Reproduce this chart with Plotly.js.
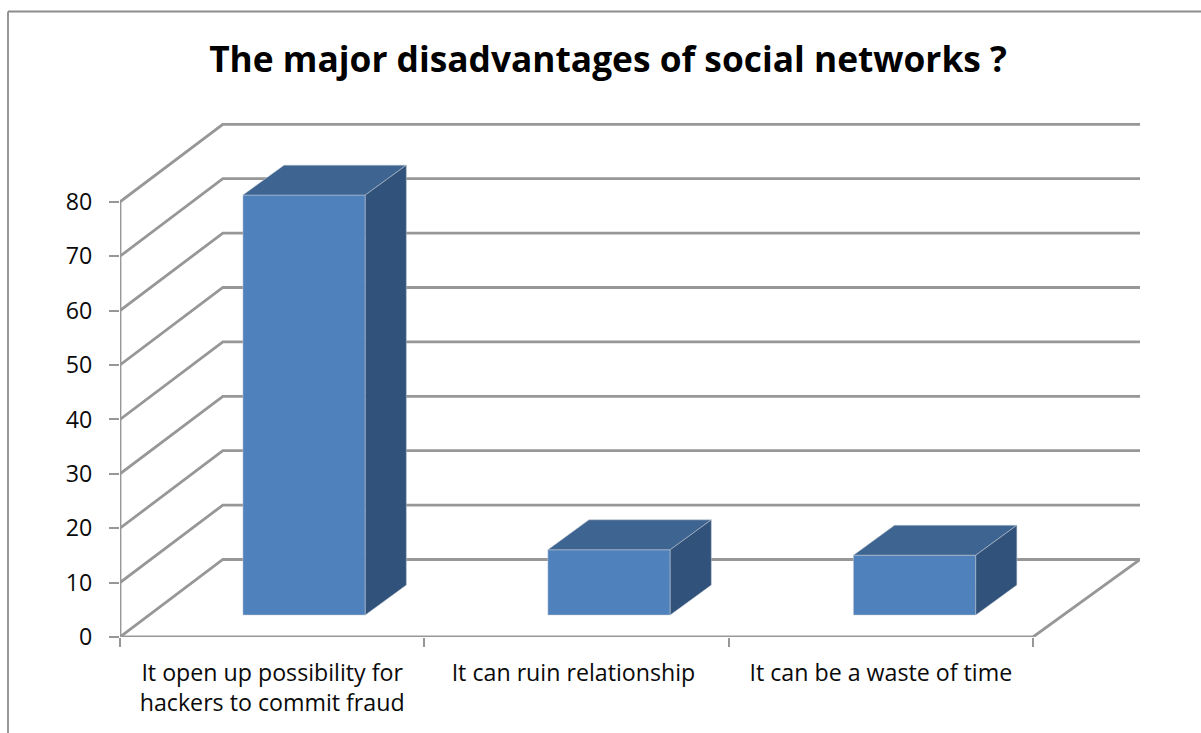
<!DOCTYPE html>
<html>
<head>
<meta charset="utf-8">
<script src="https://cdn.plot.ly/plotly-3.0.1.min.js"></script>
<style>html,body{margin:0;padding:0;background:#fff}#chart{width:1201px;height:733px}</style>
</head>
<body>
<div id="chart"></div>
<script>
// Data
const categories = ['It open up possibility for<br>hackers to commit fraud', 'It can ruin relationship', 'It can be a waste of time'];
const values = [77.2, 12, 11];
const yTicks = [0, 10, 20, 30, 40, 50, 60, 70, 80];
const categoryEdges = [0, 1, 2, 3];
const labelPositions = [0.5, 1.49, 2.5];

// Oblique projection of the 3D box, in axis units
const wallDX = 0.338, wallDY = 14.25, wallEndX = 3.352;
const barWidth = 0.402, barStart = [0.404, 1.406, 2.41];
const barBase = 4.04, sideDX = 0.135, sideDY = 5.5;

const gridColor = '#979797', front = '#4f81bd', topFace = '#3e6491', sideFace = '#31527b', edge = '#c4cad2';
const font = 'Open Sans, sans-serif', textColor = '#0a0a0a';

const gridX = [], gridY = [];
yTicks.forEach(v => {
  gridX.push(0, wallDX, wallEndX, null);
  gridY.push(v, v + wallDY, v + wallDY, null);
});
const frameX = [0, 0, null, 0, 3, wallEndX];
const frameY = [yTicks[yTicks.length - 1], 0, null, 0, 0, wallDY];

function face(xs, ys, color) {
  return {type: 'scatter', mode: 'lines', x: xs, y: ys, xaxis: 'x2', yaxis: 'y2', fill: 'toself', fillcolor: color,
    line: {color: edge, width: 0.5}, hoverinfo: 'skip', showlegend: false, cliponaxis: false};
}

const traces = [
  {type: 'scatter', mode: 'lines', x: gridX, y: gridY, line: {color: gridColor, width: 2.8}, hoverinfo: 'skip', showlegend: false, cliponaxis: false},
  {type: 'scatter', mode: 'lines', x: frameX, y: frameY, line: {color: gridColor, width: 2.8}, hoverinfo: 'skip', showlegend: false, cliponaxis: false},
  {type: 'bar', x: barStart, y: values, base: barBase, width: barWidth, offset: 0, text: categories, textposition: 'none', hoverinfo: 'text+y',
    xaxis: 'x2', yaxis: 'y2', marker: {color: front, line: {color: edge, width: 0.5}}, showlegend: false}
];

values.forEach((v, i) => {
  const l = barStart[i], r = l + barWidth, t = barBase + v;
  traces.push(face([l, l + sideDX, r + sideDX, r, l], [t, t + sideDY, t + sideDY, t, t], topFace));
  traces.push(face([r, r + sideDX, r + sideDX, r, r], [barBase, barBase + sideDY, t + sideDY, t, barBase], sideFace));
});

const plotW = 1020, plotH = 514;
const xRange = [0, plotW / 304.33], yRange = [0, plotH / 5.44];
const layout = {
  width: 1201, height: 733,
  margin: {l: 120, r: 61, t: 123, b: 96, pad: 0},
  paper_bgcolor: '#fff', plot_bgcolor: 'rgba(0,0,0,0)',
  showlegend: false,
  title: {text: '<b>The major disadvantages of social networks ?</b>', x: 608 / 1201, xanchor: 'center', xref: 'container',
    y: 1 - 60 / 733, yanchor: 'middle', yref: 'container', font: {family: font, size: 35.3, color: '#000'}},
  xaxis: {range: xRange, tickmode: 'array', tickvals: categoryEdges, ticktext: ['', '', '', ''], ticks: 'outside', ticklen: 9, tickwidth: 2,
    tickcolor: gridColor, showgrid: false, zeroline: false, showline: false},
  yaxis: {range: yRange, tickmode: 'array', tickvals: yTicks, ticks: 'outside', ticklen: 10, tickwidth: 2, tickcolor: gridColor,
    showgrid: false, zeroline: false, showline: false, ticklabelstandoff: 12, tickfont: {family: font, size: 23.2, color: textColor}},
  xaxis2: {range: xRange, overlaying: 'x', anchor: 'y2', side: 'bottom', tickmode: 'array', tickvals: labelPositions, ticktext: categories,
    ticks: '', showgrid: false, zeroline: false, showline: false, ticklabelstandoff: 20, tickangle: 0, tickfont: {family: font, size: 23.2, color: textColor}},
  yaxis2: {range: yRange, overlaying: 'y', visible: false, showgrid: false, zeroline: false},
  shapes: [
    {type: 'line', xref: 'paper', yref: 'paper', x0: (8 - 120) / plotW, x1: (8 - 120) / plotW, y0: (637 - 733) / plotH, y1: (637 - 11.5) / plotH, line: {color: '#8c8c8c', width: 1.8}},
    {type: 'line', xref: 'paper', yref: 'paper', x0: (8 - 120) / plotW, x1: (1201 - 120) / plotW, y0: (637 - 11.5) / plotH, y1: (637 - 11.5) / plotH, line: {color: '#8c8c8c', width: 1.8}}
  ]
};
Plotly.newPlot('chart', traces, layout, {displayModeBar: false, staticPlot: true});
</script>
</body>
</html>
